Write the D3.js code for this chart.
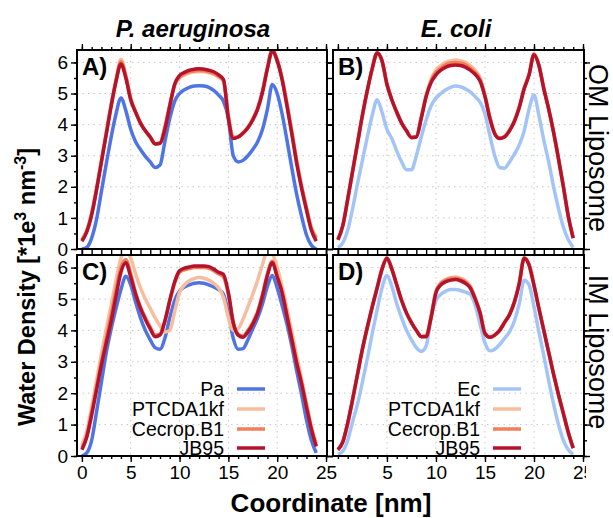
<!DOCTYPE html>
<html>
<head>
<meta charset="utf-8">
<script src="https://cdn.jsdelivr.net/npm/d3@7"></script>
<style>
  body { margin: 0; background: #fff; }
  text { font-family: "Liberation Sans", Arial, Helvetica, sans-serif; }
</style>
</head>
<body>
<div id="chart"></div>
<script>
/*
 *  Data (coordinate in nm, density in 1e3 nm^-3)
 */
const coord = [0, 0.5, 1, 1.5, 2, 2.5, 3, 3.5, 4, 4.5, 5, 5.5, 6, 6.5, 7, 7.5, 8, 8.5, 9, 9.5,
    10, 10.5, 11, 11.5, 12, 12.5, 13, 13.5, 14, 14.5, 15, 15.5, 16, 16.5, 17, 17.5, 18, 18.5, 19, 19.5,
    20, 20.5, 21, 21.5, 22, 22.5, 23, 23.5, 24];

const leftNames = ['Pa', 'PTCDA1kf', 'Cecrop.B1', 'JB95'];
const rightNames = ['Ec', 'PTCDA1kf', 'Cecrop.B1', 'JB95'];
const panelLetters = ['A)', 'B)', 'C)', 'D)'];
const colTitles = ['P. aeruginosa', 'E. coli'];
const rowTitles = ['OM Liposome', 'IM Liposome'];

const xMajor = [0, 5, 10, 15, 20, 25];
const xMinor = [0, 1, 2, 3, 4, 5, 6, 7, 8, 9, 10, 11, 12, 13, 14, 15, 16, 17, 18, 19, 20, 21, 22, 23, 24, 25];
const yMajor = [0, 1, 2, 3, 4, 5, 6];
const yMinor = [0, 0.5, 1, 1.5, 2, 2.5, 3, 3.5, 4, 4.5, 5, 5.5, 6];

// A) P. aeruginosa OM
const aPa = [0.0,0.05,0.35,0.95,1.85,2.75,3.6,4.35,4.86,4.45,3.85,3.45,3.2,2.98,2.8,2.62,2.7,3.45,4.2,4.75,5.0,5.12,5.2,5.24,5.25,5.24,5.2,5.1,4.95,4.75,4.2,3.0,2.8,2.85,3.0,3.2,3.45,3.85,4.5,5.29,5.0,4.35,3.5,2.6,1.75,1.05,0.45,0.12,0.0];
const aPtcda = [0.3,0.6,1.15,1.95,2.85,3.75,4.65,5.45,6.1,5.6,4.85,4.4,4.05,3.8,3.58,3.38,3.42,3.95,4.65,5.25,5.5,5.6,5.66,5.7,5.7,5.7,5.67,5.62,5.52,5.4,4.3,3.6,3.62,3.75,3.92,4.2,4.55,5.1,5.85,6.42,6.1,5.5,4.7,3.8,2.85,2.05,1.35,0.7,0.4];
const aCecrop = [0.28,0.58,1.12,1.92,2.82,3.72,4.62,5.42,6.02,5.55,4.82,4.4,4.05,3.8,3.6,3.38,3.4,3.9,4.62,5.28,5.52,5.63,5.7,5.72,5.74,5.73,5.7,5.65,5.56,5.42,4.25,3.58,3.6,3.73,3.9,4.17,4.52,5.07,5.82,6.38,6.08,5.48,4.65,3.75,2.8,2.0,1.3,0.65,0.35];
const aJb95 = [0.25,0.55,1.1,1.9,2.8,3.7,4.6,5.4,5.95,5.5,4.8,4.4,4.05,3.8,3.6,3.38,3.4,3.85,4.6,5.3,5.58,5.68,5.75,5.78,5.8,5.78,5.75,5.7,5.6,5.45,4.2,3.55,3.6,3.72,3.9,4.15,4.5,5.05,5.8,6.37,6.05,5.45,4.6,3.7,2.75,1.95,1.25,0.6,0.25];

// B) E. coli OM
const bEc = [0.05,0.2,0.6,1.3,2.1,2.85,3.6,4.3,4.8,4.4,3.85,3.55,3.15,2.8,2.55,2.55,3.0,3.6,4.15,4.6,4.85,5.0,5.12,5.2,5.24,5.22,5.15,5.05,4.9,4.72,4.35,3.65,3.0,2.62,2.6,2.8,3.05,3.35,3.8,4.5,4.95,4.3,3.5,2.8,2.0,1.3,0.7,0.3,0.05];
const bPtcda = [0.3,0.75,1.6,2.5,3.4,4.3,5.1,5.8,6.32,6.05,5.3,4.8,4.4,4.05,3.8,3.6,3.62,4.25,4.95,5.45,5.75,5.9,6.0,6.05,6.08,6.05,6.0,5.9,5.75,5.5,4.95,4.25,3.72,3.57,3.62,3.82,4.12,4.57,5.17,5.62,6.27,5.92,5.17,4.5,3.75,2.9,2.0,1.05,0.35];
const bCecrop = [0.3,0.75,1.6,2.5,3.4,4.3,5.1,5.8,6.3,6.05,5.3,4.8,4.4,4.05,3.8,3.6,3.62,4.22,4.92,5.4,5.68,5.82,5.93,5.98,6.0,5.98,5.93,5.82,5.68,5.45,4.92,4.22,3.72,3.57,3.62,3.82,4.12,4.57,5.17,5.62,6.27,5.92,5.17,4.5,3.75,2.9,2.0,1.05,0.35];
const bJb95 = [0.3,0.75,1.6,2.5,3.4,4.3,5.1,5.8,6.3,6.05,5.3,4.8,4.4,4.05,3.8,3.58,3.6,4.2,4.9,5.35,5.6,5.75,5.85,5.9,5.92,5.9,5.85,5.75,5.62,5.4,4.9,4.2,3.7,3.55,3.6,3.8,4.1,4.55,5.15,5.6,6.25,5.9,5.15,4.5,3.75,2.9,2.0,1.05,0.35];

// C) P. aeruginosa IM
const cPa = [0.0,0.1,0.5,1.4,2.35,3.3,4.05,4.7,5.3,5.72,5.45,4.9,4.4,4.0,3.7,3.45,3.4,3.75,4.4,4.95,5.25,5.38,5.45,5.5,5.52,5.5,5.45,5.38,5.3,5.15,4.55,3.75,3.4,3.42,3.7,4.05,4.4,4.85,5.4,5.75,5.35,4.8,4.2,3.5,2.7,1.95,1.15,0.5,0.1];
const cPtcda = [0.35,0.8,1.55,2.4,3.25,4.05,4.8,5.6,6.3,6.6,6.3,5.8,5.35,5.0,4.7,4.4,4.15,3.95,4.0,4.6,5.2,5.45,5.58,5.65,5.68,5.66,5.6,5.5,5.35,5.05,4.4,4.0,4.05,4.35,4.75,5.15,5.6,6.1,6.55,6.45,6.0,5.4,4.7,3.95,3.2,2.45,1.7,0.95,0.4];
const cCecrop = [0.25,0.65,1.4,2.2,3.0,3.75,4.5,5.3,6.0,6.25,5.8,5.2,4.75,4.4,4.1,3.85,3.88,4.3,4.95,5.5,5.85,5.93,5.97,6.0,6.0,6.0,5.98,5.9,5.8,5.7,5.15,4.25,3.88,3.82,4.0,4.25,4.6,5.15,5.8,6.2,5.75,5.22,4.5,3.75,3.0,2.32,1.58,0.88,0.33];
const cJb95 = [0.2,0.6,1.3,2.1,2.9,3.6,4.3,5.1,5.85,6.15,5.7,5.15,4.7,4.35,4.05,3.8,3.85,4.3,4.95,5.55,5.9,5.98,6.02,6.05,6.05,6.05,6.03,5.95,5.85,5.78,5.2,4.25,3.85,3.78,3.95,4.2,4.55,5.1,5.75,6.15,5.7,5.2,4.45,3.7,2.95,2.3,1.55,0.85,0.3];

// D) E. coli IM
const dEc = [0.05,0.15,0.5,1.1,1.65,2.35,3.1,3.9,4.65,5.35,5.75,5.4,4.85,4.4,4.0,3.7,3.45,3.33,3.5,4.4,4.95,5.15,5.25,5.3,5.3,5.27,5.22,5.15,4.8,4.2,3.6,3.35,3.4,3.55,3.75,3.95,4.3,4.85,5.6,5.45,4.75,3.95,3.2,2.4,1.65,1.0,0.5,0.2,0.05];
const dPtcda = [0.2,0.45,1.05,1.8,2.6,3.4,4.1,4.75,5.35,5.95,6.32,5.97,5.45,4.95,4.55,4.25,4.0,3.82,3.85,4.45,5.25,5.52,5.62,5.68,5.7,5.66,5.58,5.42,5.05,4.58,3.92,3.8,3.87,4.02,4.27,4.52,4.92,5.52,6.32,6.1,5.45,4.72,4.0,3.3,2.6,1.95,1.35,0.75,0.25];
const dCecrop = [0.2,0.45,1.05,1.8,2.6,3.4,4.1,4.75,5.35,5.95,6.3,5.95,5.45,4.95,4.55,4.25,4.0,3.8,3.82,4.42,5.22,5.5,5.6,5.65,5.66,5.62,5.54,5.38,5.02,4.56,3.9,3.78,3.85,4.0,4.25,4.5,4.9,5.5,6.3,6.08,5.43,4.7,4.0,3.3,2.6,1.95,1.35,0.75,0.25];
const dJb95 = [0.2,0.45,1.05,1.8,2.6,3.4,4.1,4.75,5.35,5.95,6.3,5.95,5.45,4.95,4.55,4.25,4.0,3.8,3.8,4.4,5.2,5.45,5.55,5.6,5.62,5.58,5.5,5.35,5.0,4.55,3.9,3.78,3.85,4.0,4.25,4.5,4.9,5.5,6.3,6.08,5.43,4.7,4.0,3.3,2.6,1.95,1.35,0.75,0.25];

const leftColors = ['#4f74e3', '#f7bd9f', '#f07f5c', '#b5132b'];
const rightColors = ['#a3c4f8', '#f7bd9f', '#f07f5c', '#b5132b'];

const panels = [
    { col: 0, row: 0, names: leftNames, colors: leftColors, series: [aPa, aPtcda, aCecrop, aJb95] },
    { col: 1, row: 0, names: rightNames, colors: rightColors, series: [bEc, bPtcda, bCecrop, bJb95] },
    { col: 0, row: 1, names: leftNames, colors: leftColors, series: [cPa, cPtcda, cCecrop, cJb95] },
    { col: 1, row: 1, names: rightNames, colors: rightColors, series: [dEc, dPtcda, dCecrop, dJb95] }
];

/*
 *  Draw chart
 */
const width = 613;
const height = 518;
const cols = [[77, 327], [333, 584]];
const rows = [[50, 249], [255, 456]];

const svg = d3.select('#chart').append('svg')
    .attr('width', width)
    .attr('height', height);

const defs = svg.append('defs');

panels.forEach((p, i) => {
    const [x0, x1] = cols[p.col];
    const [y0, y1] = rows[p.row];

    const xScale = d3.scaleLinear().domain([-0.5, 25.1]).range([x0, x1]);
    const yScale = d3.scaleLinear().domain([0, 6.4]).range([y1, y0]);

    const g = svg.append('g');

    // Dotted grid
    g.selectAll('.gx').data(xMajor.filter(d => d > 0 && d < 25)).enter().append('line')
        .attr('x1', d => xScale(d)).attr('x2', d => xScale(d))
        .attr('y1', y0).attr('y2', y1)
        .attr('stroke', '#c8c8c8').attr('stroke-width', 1).attr('stroke-dasharray', '1.5,4');
    g.selectAll('.gy').data(yMajor.filter(d => d > 0)).enter().append('line')
        .attr('y1', d => yScale(d)).attr('y2', d => yScale(d))
        .attr('x1', x0).attr('x2', x1)
        .attr('stroke', '#c8c8c8').attr('stroke-width', 1).attr('stroke-dasharray', '1.5,4');

    // Clip lines to the panel
    defs.append('clipPath').attr('id', 'clip' + i)
        .append('rect').attr('x', x0).attr('y', y0).attr('width', x1 - x0).attr('height', y1 - y0);

    const line = d3.line()
        .x((d, j) => xScale(coord[j]))
        .y(d => yScale(d))
        .curve(d3.curveMonotoneX);

    g.append('g').attr('clip-path', `url(#clip${i})`)
        .selectAll('path').data(p.series).enter().append('path')
        .attr('d', line)
        .attr('fill', 'none')
        .attr('stroke', (d, j) => p.colors[j])
        .attr('stroke-width', 3.5)
        .attr('stroke-linejoin', 'round');

    // Axes on all four sides, ticks pointing out
    const axisStyle = sel => {
        sel.select('.domain').remove();
        sel.selectAll('line').attr('stroke', '#000').attr('stroke-width', 1.4);
        sel.selectAll('text').attr('font-size', 19).attr('fill', '#000');
    };
    const showX = p.row === 1;
    const showY = p.col === 0;
    const xLabels = p.col === 0 ? xMajor : xMajor.filter(d => d > 0);

    g.append('g').attr('transform', `translate(0,${y1})`)
        .call(d3.axisBottom(xScale).tickValues(xMinor).tickSize(3).tickFormat('')).call(axisStyle);
    g.append('g').attr('class', 'xlab').attr('transform', `translate(0,${y1})`)
        .call(d3.axisBottom(xScale).tickValues(showX ? xLabels : xMajor).tickSize(6).tickPadding(4)
            .tickFormat(showX ? d3.format('d') : '')).call(axisStyle);
    g.append('g').attr('transform', `translate(0,${y0})`)
        .call(d3.axisTop(xScale).tickValues(xMinor).tickSize(3).tickFormat('')).call(axisStyle);
    g.append('g').attr('transform', `translate(0,${y0})`)
        .call(d3.axisTop(xScale).tickValues(xMajor).tickSize(6).tickFormat('')).call(axisStyle);

    g.append('g').attr('transform', `translate(${x0},0)`)
        .call(d3.axisLeft(yScale).tickValues(yMinor).tickSize(3).tickFormat('')).call(axisStyle);
    g.append('g').attr('transform', `translate(${x0},0)`)
        .call(d3.axisLeft(yScale).tickValues(yMajor).tickSize(6).tickPadding(3)
            .tickFormat(showY ? d3.format('d') : '')).call(axisStyle);
    g.append('g').attr('transform', `translate(${x1},0)`)
        .call(d3.axisRight(yScale).tickValues(yMinor).tickSize(3).tickFormat('')).call(axisStyle);
    g.append('g').attr('transform', `translate(${x1},0)`)
        .call(d3.axisRight(yScale).tickValues(yMajor).tickSize(6).tickFormat('')).call(axisStyle);

    // Frame
    g.append('rect')
        .attr('x', x0).attr('y', y0).attr('width', x1 - x0).attr('height', y1 - y0)
        .attr('fill', 'none').attr('stroke', '#000').attr('stroke-width', 2);

    // Panel letter
    g.append('text')
        .attr('x', x0 + 5).attr('y', y0 + 25)
        .attr('font-size', 24).attr('font-weight', 'bold')
        .text(panelLetters[i]);

    // Legend in the lower panels
    if (p.row === 1) {
        const rowsY = [y1 - 67, y1 - 47, y1 - 27, y1 - 8];
        const lg = g.append('g');
        lg.selectAll('line').data(p.names).enter().append('line')
            .attr('x1', x0 + 160).attr('x2', x0 + 188)
            .attr('y1', (d, j) => rowsY[j]).attr('y2', (d, j) => rowsY[j])
            .attr('stroke', (d, j) => p.colors[j]).attr('stroke-width', 3.5);
        lg.selectAll('text').data(p.names).enter().append('text')
            .attr('x', x0 + 147).attr('y', (d, j) => rowsY[j] + 7)
            .attr('text-anchor', 'end').attr('font-size', 19.5)
            .text(d => d);
    }
});

// Cut the last tick label like in the figure
defs.append('clipPath').attr('id', 'labclip')
    .append('rect').attr('x', 0).attr('y', 0).attr('width', 586).attr('height', height);
svg.selectAll('.xlab').attr('clip-path', 'url(#labclip)');

// Column titles
const colTitleX = [193, 456];
colTitles.forEach((t, i) => {
    svg.append('text')
        .attr('x', colTitleX[i]).attr('y', 37)
        .attr('text-anchor', 'middle')
        .attr('font-size', 24).attr('font-weight', 'bold').attr('font-style', 'italic')
        .text(t);
});

// Row titles on the right
const rowTitleY = [148, 352];
rowTitles.forEach((t, i) => {
    svg.append('text')
        .attr('transform', `translate(589,${rowTitleY[i]}) rotate(90)`)
        .attr('text-anchor', 'middle')
        .attr('font-size', 27)
        .text(t);
});

// Axis titles
svg.append('text')
    .attr('x', 331).attr('y', 512)
    .attr('text-anchor', 'middle')
    .attr('font-size', 26).attr('font-weight', 'bold')
    .text('Coordinate [nm]');

const yTitle = svg.append('text')
    .attr('transform', 'translate(35,287) rotate(-90)')
    .attr('text-anchor', 'middle')
    .attr('font-size', 23.5).attr('font-weight', 'bold');
yTitle.append('tspan').text('Water Density [*1e');
yTitle.append('tspan').attr('dy', -9).attr('font-size', 16).text('3');
yTitle.append('tspan').attr('dy', 9).text(' nm');
yTitle.append('tspan').attr('dy', -9).attr('font-size', 16).text('-3');
yTitle.append('tspan').attr('dy', 9).text(']');
</script>
</body>
</html>
